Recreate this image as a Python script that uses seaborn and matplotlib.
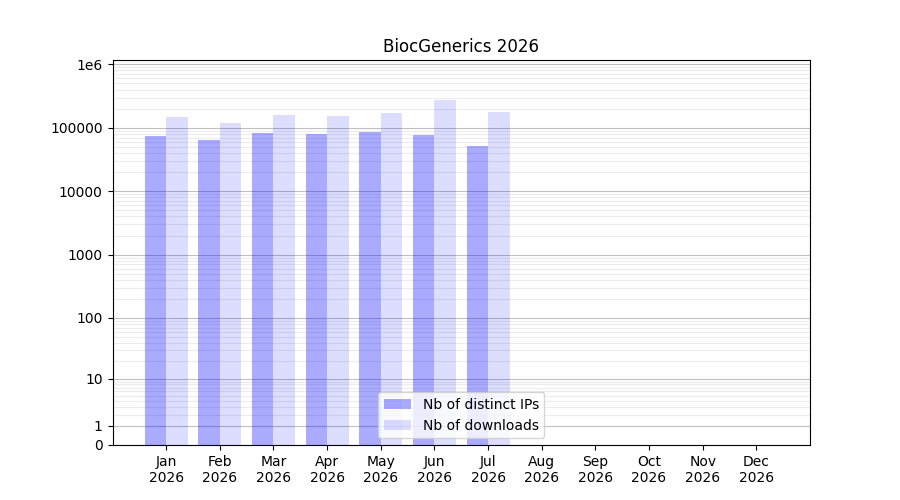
import numpy as np
import pandas as pd
import matplotlib
matplotlib.use("Agg")
import matplotlib.pyplot as plt
import seaborn as sns
from matplotlib.ticker import FixedLocator
from matplotlib.colors import to_rgba

months = ["Jan", "Feb", "Mar", "Apr", "May", "Jun", "Jul", "Aug", "Sep", "Oct", "Nov", "Dec"]
year = "2026"
distinct_ips = [73000, 63400, 81500, 78500, 84500, 75800, 51000, 0, 0, 0, 0, 0]
downloads = [150000, 117000, 161000, 156000, 173000, 277000, 180000, 0, 0, 0, 0, 0]
series_names = ["Nb of distinct IPs", "Nb of downloads"]
colors = ["#aaaaff", "#ddddff"]
alphas = [1 / 3, 0.135]
ytick_values = [0, 1, 10, 100, 1000, 10000, 100000, 1000000]
ytick_labels = ["0", "1", "10", "100", "1000", "10000", "100000", "1e6"]

labels = [f"{m}\n{year}" for m in months]
df = pd.DataFrame({
    "month": labels * 2,
    "value": distinct_ips + downloads,
    "series": [series_names[0]] * 12 + [series_names[1]] * 12,
})

fig, ax = plt.subplots(figsize=(9, 5), dpi=100)
sns.barplot(data=df, x="month", y="value", hue="series", palette=colors,
            saturation=1, errorbar=None, linewidth=0, width=0.8, ax=ax)

# semi-transparent blue bars over the grid
for cont, a in zip(ax.containers, alphas):
    for p in cont.patches:
        p.set_facecolor(to_rgba("blue", a))

ax.set_yscale("function", functions=(lambda v: np.log10(1 + np.maximum(v, 0)),
                                      lambda t: 10 ** t - 1))
ax.set_ylim(0, 1.17e6)
ax.set_xlim(-1, 12)
ax.yaxis.set_major_locator(FixedLocator(ytick_values))
ax.set_yticklabels(ytick_labels)
minor = [m * 10 ** k for k in range(0, 6) for m in range(2, 10)]
ax.yaxis.set_minor_locator(FixedLocator(minor))
ax.tick_params(axis="y", which="minor", length=0, width=0, left=False)
ax.set_axisbelow(True)
ax.grid(axis="y", which="major", color="#c0c0c0", linewidth=0.8)
ax.grid(axis="y", which="minor", color="#ececec", linewidth=0.8)
ax.set_xlabel("")
ax.set_ylabel("")
ax.set_title("BiocGenerics 2026")

handles, hlabels = ax.get_legend_handles_labels()
for h, a in zip(handles, alphas):
    h.set_facecolor(to_rgba("blue", a))
ax.legend(handles, hlabels, loc="lower center", title=None)

fig.savefig("out.png", dpi=100)
